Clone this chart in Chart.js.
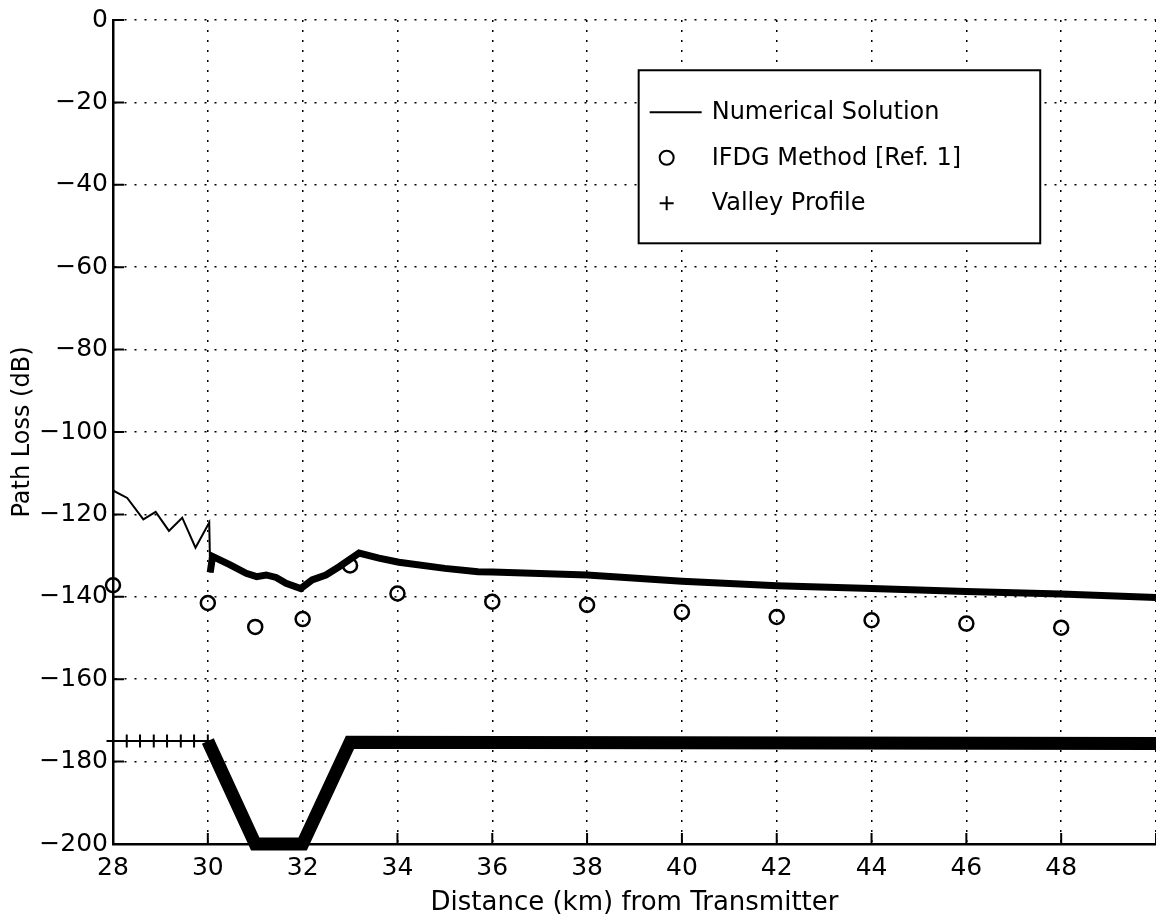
<!DOCTYPE html>
<html>
<head>
<meta charset="utf-8">
<script src="https://cdn.jsdelivr.net/npm/chart.js"></script>
<style>
  html, body { margin: 0; padding: 0; background: #fff; overflow: hidden; }
  #wrap { width: 1156px; height: 924px; }
  canvas { display: block; }
</style>
</head>
<body>
<div id="wrap"><canvas id="pathLossChart" width="1156" height="924"></canvas></div>
<script>
// values
const numericalKm = [28.0, 28.3, 28.64, 28.9, 29.18, 29.46, 29.74, 30.03, 30.05, 30.1, 30.46, 30.81, 31.03, 31.23, 31.44, 31.65, 31.96, 32.2, 32.49, 32.77, 33.19, 33.61, 34.03, 35.0, 35.7, 36, 38, 40, 42, 44, 46, 48, 50];
const numericalLoss = [-114.2, -116.0, -121.2, -119.4, -124.0, -120.8, -128.1, -122.0, -134.1, -130.2, -132.2, -134.3, -135.1, -134.7, -135.3, -136.7, -138.0, -135.9, -134.7, -132.7, -129.4, -130.6, -131.6, -133.1, -133.9, -134.0, -134.7, -136.2, -137.3, -138.0, -138.7, -139.3, -140.2];

const ifdgKm = [28, 30, 31, 32, 33, 34, 36, 38, 40, 42, 44, 46, 48];
const ifdgLoss = [-137.2, -141.5, -147.3, -145.4, -132.4, -139.2, -141.2, -142.0, -143.7, -144.9, -145.7, -146.5, -147.5];

const valleyKm = [28, 28.29, 28.57, 28.86, 29.14, 29.43, 29.71, 30, 31, 32, 33, 50];
const valleyLevel = [-175, -175, -175, -175, -175, -175, -175, -175, -200, -200, -175.3, -175.6];

const xTicks = [28, 30, 32, 34, 36, 38, 40, 42, 44, 46, 48, 50];
const seriesNames = ['Numerical Solution', 'IFDG Method [Ref. 1]', 'Valley Profile'];

const FONT = 'DejaVu Sans';

function pairs(xs, ys) {
  return xs.map((x, i) => ({ x: x, y: ys[i] }));
}

// MATLAB-style inward tick marks
const innerTicks = {
  id: 'innerTicks',
  afterDatasetsDraw(chart) {
    const { ctx, chartArea: a, scales } = chart;
    ctx.save();
    ctx.strokeStyle = '#000';
    ctx.lineWidth = 2;
    ctx.beginPath();
    scales.y.ticks.forEach(t => {
      const py = scales.y.getPixelForValue(t.value);
      ctx.moveTo(a.left, py);
      ctx.lineTo(a.left + 11, py);
    });
    scales.x.ticks.forEach(t => {
      const px = scales.x.getPixelForValue(t.value);
      ctx.moveTo(px, a.bottom);
      ctx.lineTo(px, a.bottom - 11);
    });
    ctx.stroke();
    ctx.restore();
  }
};

// boxed legend inside the plot, like the original
const boxLegend = {
  id: 'boxLegend',
  afterDraw(chart) {
    const { ctx, chartArea: a } = chart;
    const w = a.right - a.left, h = a.bottom - a.top;
    const left = a.left + w * 0.504, right = a.left + w * 0.889;
    const top = a.top + h * 0.061, bottom = a.top + h * 0.271;
    ctx.save();
    ctx.fillStyle = '#fff';
    ctx.fillRect(left, top, right - left, bottom - top);
    ctx.strokeStyle = '#000';
    ctx.lineWidth = 2;
    ctx.strokeRect(left, top, right - left, bottom - top);

    const symX = left + 28;
    const textX = left + 73;
    ctx.font = '24px "' + FONT + '"';
    ctx.fillStyle = '#000';
    ctx.textBaseline = 'middle';
    seriesNames.forEach((name, i) => {
      const y = top + 42 + i * 45.5;
      ctx.lineWidth = 2;
      ctx.beginPath();
      if (i === 0) {
        ctx.moveTo(left + 11, y);
        ctx.lineTo(left + 63, y);
      } else if (i === 1) {
        ctx.arc(symX, y, 7, 0, Math.PI * 2);
      } else {
        ctx.moveTo(symX - 7, y);
        ctx.lineTo(symX + 7, y);
        ctx.moveTo(symX, y - 7);
        ctx.lineTo(symX, y + 7);
      }
      ctx.stroke();
      ctx.fillText(name, textX, y + 1);
    });
    ctx.restore();
  }
};

new Chart(document.getElementById('pathLossChart'), {
  type: 'line',
  data: {
    datasets: [
      {
        label: seriesNames[0],
        data: pairs(numericalKm, numericalLoss),
        borderColor: '#000',
        borderWidth: 2,
        pointRadius: 0,
        tension: 0,
        segment: {
          borderWidth: c => (c.p0.parsed.x >= 30.04 ? 7 : 2)
        }
      },
      {
        label: seriesNames[1],
        data: pairs(ifdgKm, ifdgLoss),
        showLine: false,
        clip: false,
        pointStyle: 'circle',
        pointRadius: 7,
        pointBorderWidth: 2.5,
        pointBorderColor: '#000',
        pointBackgroundColor: 'rgba(0,0,0,0)'
      },
      {
        label: seriesNames[2],
        data: pairs(valleyKm, valleyLevel),
        borderColor: '#000',
        borderWidth: 2,
        borderJoinStyle: 'miter',
        pointStyle: 'cross',
        pointRadius: c => (c.raw && c.raw.x <= 30 ? 6.5 : 0),
        pointBorderWidth: 2,
        pointBorderColor: '#000',
        clip: false,
        segment: {
          borderWidth: c => (c.p0.parsed.x >= 29.99 ? 13 : 2)
        }
      }
    ]
  },
  options: {
    responsive: false,
    animation: false,
    events: [],
    layout: { autoPadding: false, padding: { top: 20, right: 0, left: 0, bottom: 0 } },
    plugins: {
      legend: { display: false },
      tooltip: { enabled: false }
    },
    scales: {
      x: {
        type: 'linear',
        min: 28,
        max: 50,
        afterBuildTicks: s => { s.ticks = xTicks.map(v => ({ value: v })); },
        afterFit: s => { s.height = 80; },
        ticks: {
          autoSkip: false,
          maxRotation: 0,
          padding: 0,
          color: '#000',
          font: { family: FONT, size: 25 },
          callback: v => (v === 50 ? '' : String(v))
        },
        // invisible outer ticks only give the labels their gap
        grid: { color: '#000', lineWidth: 1.5, drawTicks: true, tickLength: 9, tickColor: 'rgba(0,0,0,0)' },
        border: { display: true, color: '#000', width: 2.5, dash: [2, 8] },
        title: {
          display: true,
          text: 'Distance (km) from Transmitter',
          color: '#000',
          font: { family: FONT, size: 26 },
          padding: { top: 0, bottom: 5 }
        }
      },
      y: {
        min: -200,
        max: 0,
        afterFit: s => { s.width = 113; },
        ticks: {
          stepSize: 20,
          padding: 5,
          color: '#000',
          font: { family: FONT, size: 25 },
          callback: v => (v < 0 ? '\u2212' + Math.abs(v) : String(v))
        },
        grid: { color: '#000', lineWidth: 1.5, drawTicks: false, tickLength: 0 },
        border: { display: true, color: '#000', width: 2.5, dash: [2, 8] },
        title: {
          display: true,
          text: 'Path Loss (dB)',
          color: '#000',
          font: { family: FONT, size: 24 },
          padding: { top: 8, bottom: 0 }
        }
      }
    }
  },
  plugins: [innerTicks, boxLegend]
});
</script>
</body>
</html>
